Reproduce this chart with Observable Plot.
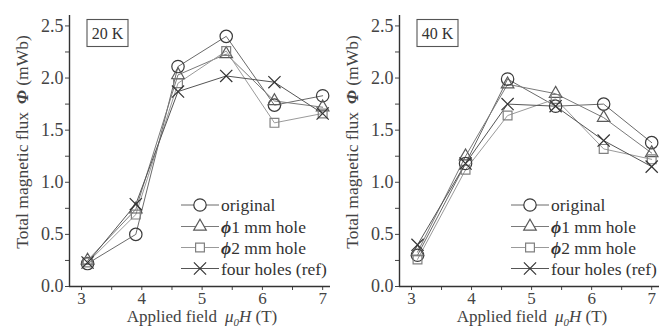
<!DOCTYPE html>
<html>
<head>
<meta charset="utf-8">
<script src="https://cdn.jsdelivr.net/npm/d3@7"></script>
<script src="https://cdn.jsdelivr.net/npm/@observablehq/plot@0.6"></script>
<style>
  body { margin: 0; background: #fff; }
  #wrap { display: flex; width: 659px; height: 327px; overflow: hidden; }
  svg { font-family: "Liberation Serif", "DejaVu Serif", serif; }
</style>
</head>
<body>
<div id="wrap"></div>
<script>
// Applied field (T) at which the flux was measured
const fields = [3.1, 3.9, 4.6, 5.4, 6.2, 7.0];
const seriesNames = ["original", "ϕ1 mm hole", "ϕ2 mm hole", "four holes (ref)"];
const panelLabels = ["20 K", "40 K"];
const xTicks = [3, 4, 5, 6, 7];
const yTicks = [0, 0.5, 1.0, 1.5, 2.0, 2.5];

// Total magnetic flux (mWb) at 20 K
const original20K  = [0.22, 0.50, 2.11, 2.40, 1.74, 1.83];
const hole1mm20K   = [0.25, 0.74, 2.03, 2.23, 1.78, 1.72];
const hole2mm20K   = [0.23, 0.69, 1.95, 2.26, 1.57, 1.66];
const fourHoles20K = [0.23, 0.79, 1.87, 2.02, 1.96, 1.66];

// Total magnetic flux (mWb) at 40 K
const original40K  = [0.30, 1.18, 1.99, 1.73, 1.75, 1.38];
const hole1mm40K   = [0.33, 1.25, 1.94, 1.85, 1.62, 1.28];
const hole2mm40K   = [0.26, 1.12, 1.64, 1.80, 1.32, 1.22];
const fourHoles40K = [0.40, 1.18, 1.75, 1.73, 1.40, 1.15];

// marker / line appearance per series
const looks = [
  {symbol: "circle",    r: 6.2, mark: "#3a3a3a", line: "#6a6a6a"},
  {symbol: "triangle2", r: 6.0, mark: "#5a5a5a", line: "#7a7a7a"},
  {symbol: "square2",   r: 5.6, mark: "#808080", line: "#9a9a9a"},
  {symbol: "times",     r: 5.6, mark: "#333333", line: "#555555"}
];
const symbolTypes = {circle: d3.symbolCircle, triangle2: d3.symbolTriangle2, square2: d3.symbolSquare2, times: d3.symbolTimes};

const xDomain = [2.8, 7.13];
const yDomain = [0, 2.6];
const xMinor = d3.range(3.5, 7.1, 1);
const yMinor = d3.range(0.25, 2.6, 0.5);

function drawPanel(label, seriesValues, width) {
  const rows = seriesValues.flatMap((vals, s) =>
    fields.map((f, i) => ({field: f, flux: vals[i], s})));

  const marks = [
    Plot.axisX({ticks: xTicks, tickSize: 4, tickPadding: 1, label: null, tickFormat: d3.format("d"), fontSize: 17}),
    Plot.axisX({ticks: xMinor, tickSize: 4, tickFormat: () => "", label: null}),
    Plot.axisY({ticks: yTicks, tickSize: 4, tickPadding: 2, label: null, tickFormat: d3.format(".1f")}),
    Plot.axisY({ticks: yMinor, tickSize: 4, tickFormat: () => "", label: null}),
    Plot.ruleY([yDomain[0]], {stroke: "#333", strokeWidth: 1.4}),
    Plot.ruleX([xDomain[0]], {stroke: "#333", strokeWidth: 1.4})
  ];
  looks.forEach((lk, s) => {
    const d = rows.filter(r => r.s === s);
    marks.push(Plot.line(d, {x: "field", y: "flux", stroke: lk.line, strokeWidth: 1}));
  });
  looks.forEach((lk, s) => {
    const d = rows.filter(r => r.s === s);
    marks.push(Plot.dot(d, {x: "field", y: "flux", symbol: () => lk.symbol, r: lk.r,
      stroke: lk.mark, fill: "none", strokeWidth: 1.2}));
  });

  const svg = Plot.plot({
    width, height: 327,
    marginLeft: 69, marginRight: 0, marginTop: 15, marginBottom: 41,
    x: {domain: xDomain},
    y: {domain: yDomain},
    symbol: {type: "identity"},
    style: {fontSize: "18px", color: "#444", fontFamily: "'Liberation Serif', serif", overflow: "visible"},
    marks
  });

  const g = d3.select(svg);

  // y-axis title
  const yt = g.append("text")
    .attr("transform", "translate(22,142) rotate(-90)")
    .attr("text-anchor", "middle")
    .attr("dy", "0.35em")
    .attr("fill", "#444")
    .attr("font-size", 17.5);
  yt.append("tspan").text("Total magnetic flux");
  yt.append("tspan").attr("dx", 8).attr("font-style", "italic").attr("font-weight", "bold").text("Φ");
  yt.append("tspan").text(" (mWb)");

  // x-axis title
  const xt = g.append("text")
    .attr("x", 202).attr("y", 321.5)
    .attr("text-anchor", "middle")
    .attr("fill", "#444")
    .attr("font-size", 17);
  xt.append("tspan").text("Applied field");
  xt.append("tspan").attr("dx", 8).attr("font-style", "italic").text("μ");
  xt.append("tspan").attr("font-style", "italic").attr("font-size", 11).attr("dy", 4).text("0");
  xt.append("tspan").attr("font-style", "italic").attr("dy", -4).text("H");
  xt.append("tspan").text(" (T)");

  // temperature box
  g.append("rect").attr("x", 87).attr("y", 19.5).attr("width", 41).attr("height", 27)
    .attr("fill", "none").attr("stroke", "#555").attr("stroke-width", 1.1);
  g.append("text").attr("x", 107.5).attr("y", 38.5).attr("text-anchor", "middle")
    .attr("font-size", 16).attr("fill", "#333").text(label);

  // legend
  const rowY = [205, 226.5, 247.5, 268.5];
  seriesNames.forEach((name, s) => {
    const lk = looks[s];
    const y = rowY[s];
    g.append("line").attr("x1", 181).attr("x2", 219).attr("y1", y).attr("y2", y)
      .attr("stroke", lk.line).attr("stroke-width", 1);
    g.append("path").attr("transform", `translate(200,${y})`)
      .attr("d", d3.symbol(symbolTypes[lk.symbol], Math.PI * lk.r * lk.r)())
      .attr("fill", "#fff").attr("stroke", lk.mark).attr("stroke-width", 1.2);
    const t = g.append("text").attr("x", 221).attr("y", y).attr("dy", "0.35em")
      .attr("text-anchor", "start")
      .attr("font-size", 17.5).attr("fill", "#333");
    if (name.startsWith("ϕ")) {
      t.append("tspan").attr("font-style", "italic").attr("font-weight", "bold").text("ϕ");
      t.append("tspan").text(name.slice(1));
    } else {
      t.text(name);
    }
  });

  return svg;
}

const wrap = document.getElementById("wrap");
wrap.appendChild(drawPanel(panelLabels[0], [original20K, hole1mm20K, hole2mm20K, fourHoles20K], 330));
wrap.appendChild(drawPanel(panelLabels[1], [original40K, hole1mm40K, hole2mm40K, fourHoles40K], 329));
</script>
</body>
</html>
